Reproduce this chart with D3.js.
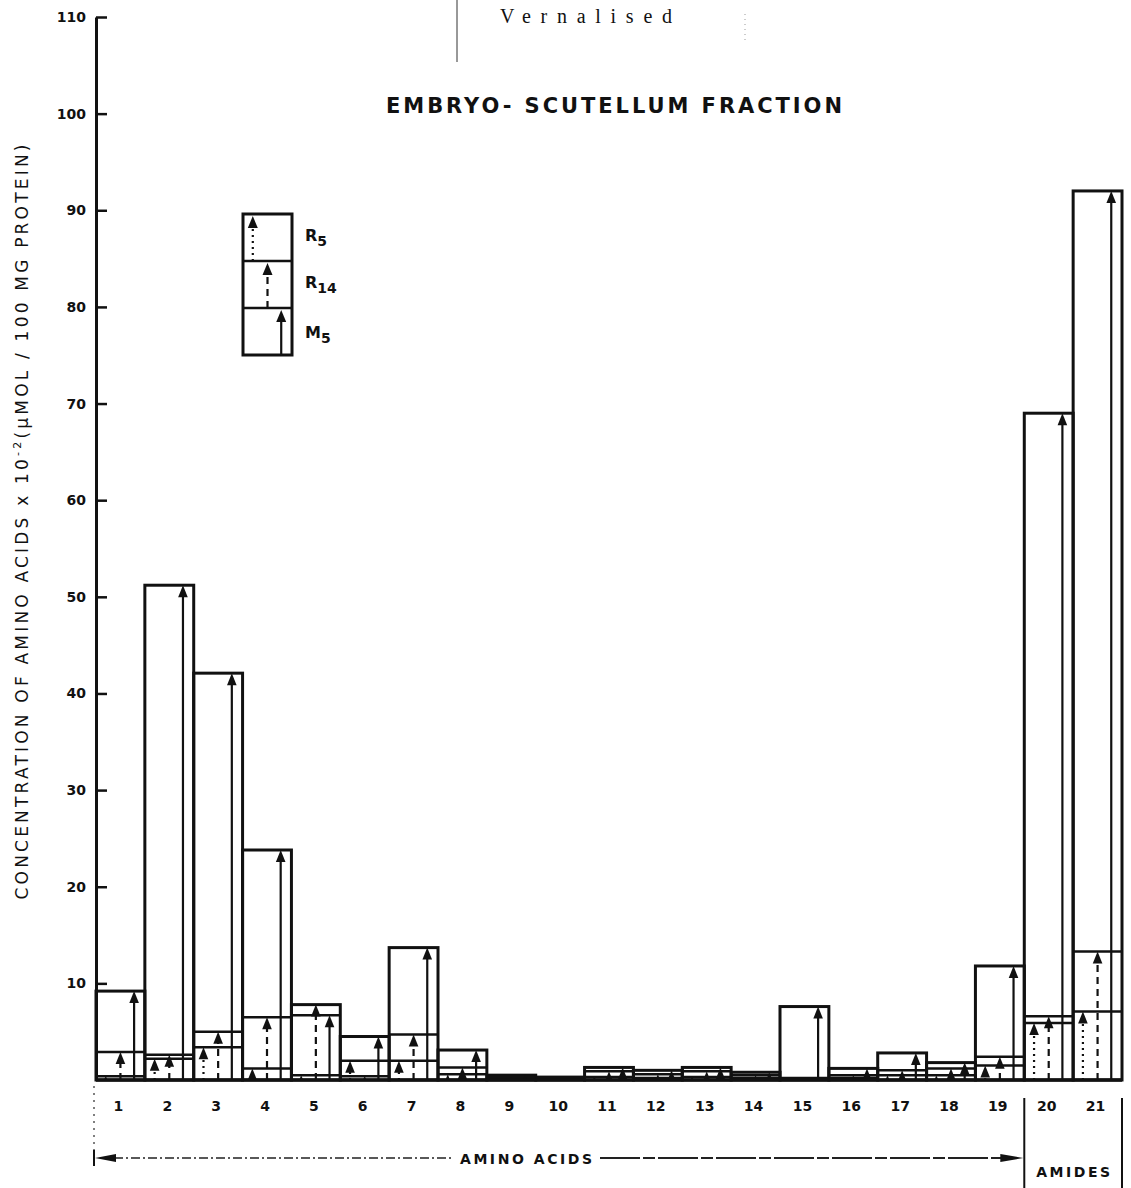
<!DOCTYPE html>
<html>
<head>
<meta charset="utf-8">
<script src="https://cdn.jsdelivr.net/npm/d3@7/dist/d3.min.js"></script>
<style>
  body { margin: 0; background: #fff; }
  svg text { font-family: "DejaVu Sans", sans-serif; fill: #111; }
</style>
</head>
<body>
<svg id="chart"></svg>
<script>
// amino acid / amide number along the x axis
const categories = ['1', '2', '3', '4', '5', '6', '7', '8', '9', '10', '11', '12', '13', '14', '15', '16', '17', '18', '19', '20', '21']

// concentrations x 10^-2 (umol / 100 mg protein)
const r5 = [0.4, 2.2, 3.4, 1.2, 0.5, 2.0, 2.0, 0.6, 0.1, 0.1, 0.3, 0.2, 0.3, 0.2, 0.1, 0.2, 0.5, 0.5, 1.5, 5.9, 7.1]
const r14 = [2.9, 2.6, 5.0, 6.5, 7.8, 0.4, 4.7, 1.3, 0.3, 0.2, 0.9, 0.6, 0.9, 0.5, 0.2, 0.5, 1.0, 1.2, 2.4, 6.6, 13.3]
const m5 = [9.2, 51.2, 42.1, 23.8, 6.7, 4.5, 13.7, 3.1, 0.5, 0.3, 1.3, 1.0, 1.3, 0.8, 7.6, 1.2, 2.8, 1.8, 11.8, 69.0, 92.0]

const yTicks = [10, 20, 30, 40, 50, 60, 70, 80, 90, 100, 110]
const seriesNames = ['R5', 'R14', 'M5']
const groups = [
  {label: 'AMINO ACIDS', first: '1', last: '19'},
  {label: 'AMIDES', first: '20', last: '21'}
]

// how each series is drawn: arrow style and where it sits inside the bar
const seriesStyle = {
  R5: {dash: '2,4', pos: 0.2, values: r5},
  R14: {dash: '7,5', pos: 0.5, values: r14},
  M5: {dash: null, pos: 0.78, values: m5}
}

const width = 1131
const height = 1188

let svg = d3.select('#chart')
  .attr('width', width)
  .attr('height', height)

let x = d3.scaleBand().domain(categories).range([96, 1122]).padding(0)
let y = d3.scaleLinear().domain([0, 110]).range([1080, 17])
let bw = x.bandwidth()

// draws an arrow from the baseline up to value v
function arrow(g, cx, v, dash) {
  let y0 = y(0)
  let tip = y(v)
  let h = Math.min(12, y0 - tip)
  let w = Math.max(2, h * 0.4)
  if (y0 - tip > h) {
    g.append('line')
      .attr('x1', cx).attr('x2', cx)
      .attr('y1', y0).attr('y2', tip + h - 1)
      .attr('stroke', '#111')
      .attr('stroke-width', 2.2)
      .attr('stroke-dasharray', dash)
  }
  g.append('path')
    .attr('d', `M${cx},${tip} L${cx - w},${tip + h} L${cx + w},${tip + h} Z`)
    .attr('fill', '#111')
}

/* ---------- top scraps of the scanned page ---------- */
svg.append('text')
  .attr('x', 500).attr('y', 23)
  .attr('textLength', 172)
  .style('font-family', '"Liberation Serif", serif')
  .style('font-size', '20px')
  .text('Vernalised')

svg.append('line')
  .attr('x1', 457).attr('x2', 457).attr('y1', 0).attr('y2', 62)
  .attr('stroke', '#333').attr('stroke-width', 1)

svg.append('line')
  .attr('x1', 745).attr('x2', 745).attr('y1', 14).attr('y2', 40)
  .attr('stroke', '#999').attr('stroke-width', 1).attr('stroke-dasharray', '1,4')

/* ---------- title ---------- */
svg.append('text')
  .attr('x', 386).attr('y', 113)
  .attr('textLength', 456)
  .style('font-size', '21px')
  .style('font-weight', 'bold')
  .text('EMBRYO- SCUTELLUM FRACTION')

/* ---------- y axis ---------- */
let yAxis = d3.axisLeft(y)
  .tickValues(yTicks)
  .tickSize(-11)
  .tickSizeOuter(0)
  .tickPadding(10)
  .tickFormat(d3.format('d'))

let axisG = svg.append('g')
  .attr('transform', 'translate(96,0)')
  .call(yAxis)

axisG.select('.domain').attr('stroke', '#111').attr('stroke-width', 3)
axisG.selectAll('.tick line').attr('stroke', '#111').attr('stroke-width', 2.5)
axisG.selectAll('.tick text')
  .style('font-family', '"DejaVu Sans", sans-serif')
  .style('font-size', '14px')
  .style('font-weight', 'bold')
  .attr('fill', '#111')

let yLabel = svg.append('text')
  .attr('transform', 'translate(28,522) rotate(-90)')
  .attr('text-anchor', 'middle')
  .attr('textLength', 755)
  .style('font-size', '17px')
yLabel.append('tspan').text('CONCENTRATION OF AMINO  ACIDS  x 10')
yLabel.append('tspan').attr('dy', -7).style('font-size', '11px').text('-2')
yLabel.append('tspan').attr('dy', 7).text('(\u03bcMOL / 100 MG PROTEIN)')

/* ---------- bars ---------- */
let barGroup = svg.append('g').attr('class', 'bars')

categories.forEach((c, i) => {
  let vals = seriesNames.map(s => seriesStyle[s].values[i])
  let top = d3.max(vals)
  let g = barGroup.append('g')

  g.append('rect')
    .attr('x', x(c))
    .attr('y', y(top))
    .attr('width', bw)
    .attr('height', y(0) - y(top))
    .attr('fill', 'none')
    .attr('stroke', '#111')
    .attr('stroke-width', 3)

  // level lines for the lower series
  vals.forEach(v => {
    if (v === top) return
    g.append('line')
      .attr('x1', x(c)).attr('x2', x(c) + bw)
      .attr('y1', y(v)).attr('y2', y(v))
      .attr('stroke', '#111')
      .attr('stroke-width', 2.5)
  })

  seriesNames.forEach(s => {
    let st = seriesStyle[s]
    arrow(g, x(c) + bw * st.pos, st.values[i], st.dash)
  })
})

// baseline
svg.append('line')
  .attr('x1', x(categories[0])).attr('x2', x(categories[categories.length - 1]) + bw)
  .attr('y1', y(0)).attr('y2', y(0))
  .attr('stroke', '#111').attr('stroke-width', 3.5)

// category numbers
svg.append('g').selectAll('text')
  .data(categories)
  .join('text')
  .attr('x', d => x(d) + bw / 2 - 2)
  .attr('y', 1111)
  .attr('text-anchor', 'middle')
  .style('font-size', '14px')
  .style('font-weight', 'bold')
  .text(d => d)

/* ---------- legend ---------- */
let legend = svg.append('g').attr('transform', 'translate(243,214)')
let cellH = 47
let legW = 49

legend.append('rect')
  .attr('width', legW).attr('height', cellH * seriesNames.length)
  .attr('fill', 'none').attr('stroke', '#111').attr('stroke-width', 3)

seriesNames.forEach((s, i) => {
  let st = seriesStyle[s]
  let top = i * cellH
  if (i > 0) {
    legend.append('line')
      .attr('x1', 0).attr('x2', legW)
      .attr('y1', top).attr('y2', top)
      .attr('stroke', '#111').attr('stroke-width', 2.5)
  }
  let ax = legW * st.pos
  legend.append('line')
    .attr('x1', ax).attr('x2', ax)
    .attr('y1', top + cellH).attr('y2', top + 12)
    .attr('stroke', '#111').attr('stroke-width', 2.2)
    .attr('stroke-dasharray', st.dash)
  legend.append('path')
    .attr('d', `M${ax},${top + 2} L${ax - 5},${top + 14} L${ax + 5},${top + 14} Z`)
    .attr('fill', '#111')

  let t = legend.append('text')
    .attr('x', 62).attr('y', top + 27 + (i === 2 ? 3 : 0))
    .style('font-size', '16px')
    .style('font-weight', 'bold')
  t.append('tspan').text(s.charAt(0))
  t.append('tspan').attr('dy', 5).style('font-size', '14px').text(s.slice(1))
})

/* ---------- bottom group brackets ---------- */
let annot = svg.append('g')
let lineY = 1158
let aminoL = x(groups[0].first)
let aminoR = x(groups[0].last) + bw
let amidL = x(groups[1].first)
let amidR = x(groups[1].last) + bw

annot.append('line')
  .attr('x1', aminoL - 2).attr('x2', aminoL - 2)
  .attr('y1', y(0) + 6).attr('y2', lineY + 8)
  .attr('stroke', '#555').attr('stroke-width', 1.5).attr('stroke-dasharray', '2,5')

annot.append('line')
  .attr('x1', aminoL - 2).attr('x2', aminoL - 2)
  .attr('y1', lineY - 8).attr('y2', lineY + 8)
  .attr('stroke', '#111').attr('stroke-width', 2)

annot.append('line')
  .attr('x1', aminoL + 18).attr('x2', 452)
  .attr('y1', lineY).attr('y2', lineY)
  .attr('stroke', '#222').attr('stroke-width', 1.5).attr('stroke-dasharray', '9,3,2,3')

annot.append('line')
  .attr('x1', 600).attr('x2', aminoR - 20)
  .attr('y1', lineY).attr('y2', lineY)
  .attr('stroke', '#222').attr('stroke-width', 1.8).attr('stroke-dasharray', '40,3,12,3')

annot.append('path')
  .attr('d', `M${aminoL - 1},${lineY} L${aminoL + 20},${lineY - 4} L${aminoL + 20},${lineY + 4} Z`)
  .attr('fill', '#111')

annot.append('path')
  .attr('d', `M${aminoR - 1},${lineY} L${aminoR - 24},${lineY - 4} L${aminoR - 24},${lineY + 4} Z`)
  .attr('fill', '#111')

annot.append('text')
  .attr('x', 526).attr('y', lineY + 6)
  .attr('text-anchor', 'middle')
  .attr('textLength', 132)
  .style('font-size', '14px')
  .style('font-weight', 'bold')
  .text(groups[0].label)

;[amidL, amidR].forEach(px => {
  annot.append('line')
    .attr('x1', px).attr('x2', px)
    .attr('y1', 1098).attr('y2', height)
    .attr('stroke', '#111').attr('stroke-width', 2)
})

annot.append('text')
  .attr('x', (amidL + amidR) / 2).attr('y', 1177)
  .attr('text-anchor', 'middle')
  .attr('textLength', 74)
  .style('font-size', '14px')
  .style('font-weight', 'bold')
  .text(groups[1].label)
</script>
</body>
</html>
